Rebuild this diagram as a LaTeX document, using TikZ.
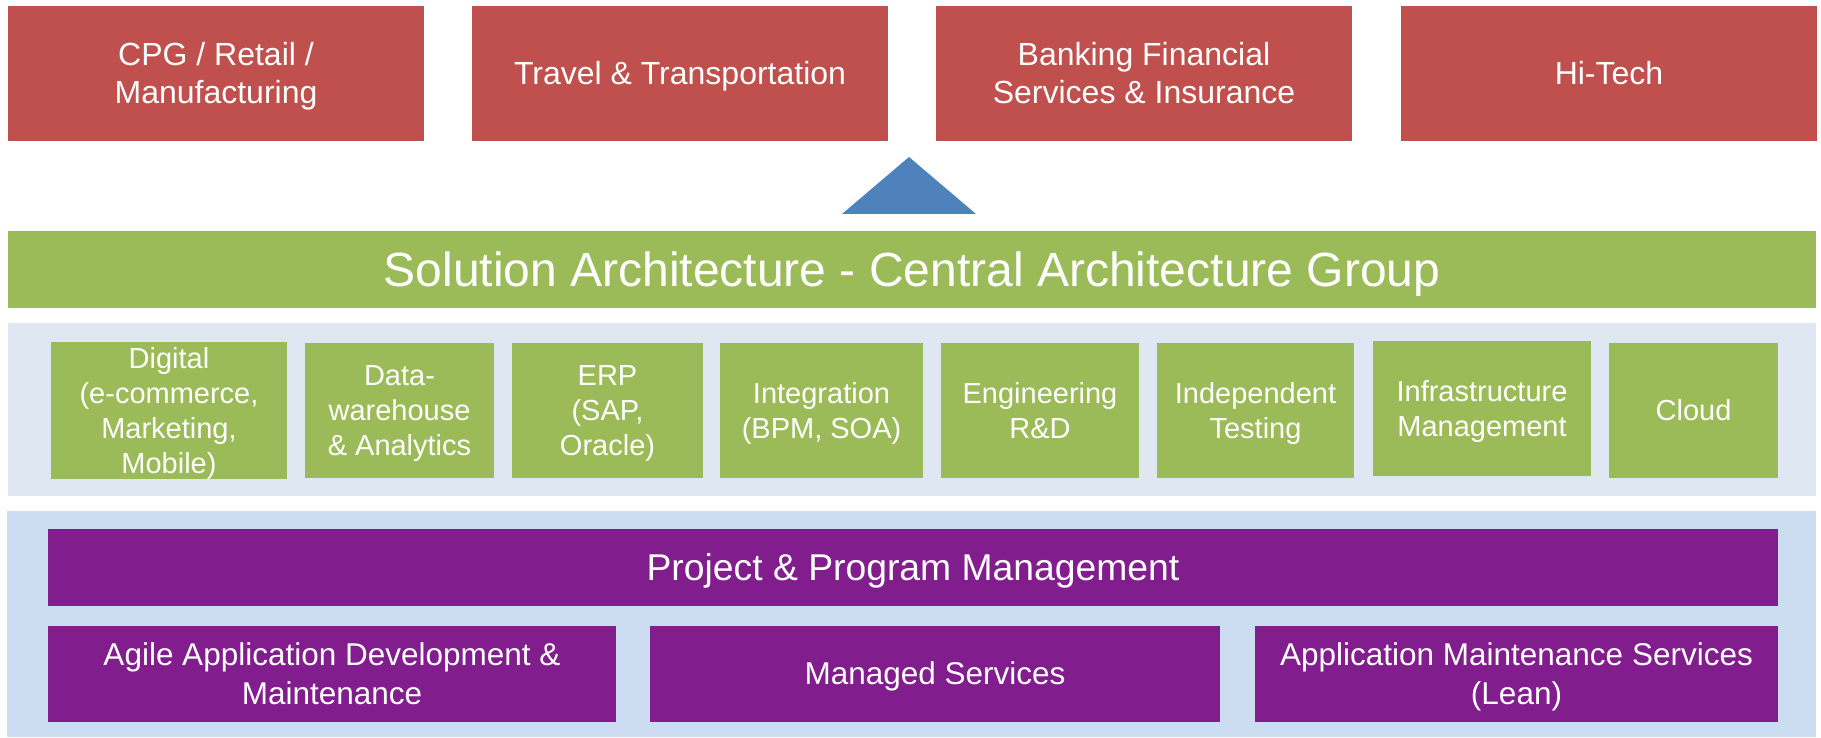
\documentclass[tikz,border=0pt]{standalone}
\usepackage{fontspec}
\setmainfont{Liberation Sans}
\definecolor{redbox}{HTML}{C0504D}
\definecolor{greenbox}{HTML}{9BBB59}
\definecolor{panelA}{HTML}{DFE7F2}
\definecolor{panelB}{HTML}{CCDDF1}
\definecolor{purplebox}{HTML}{821D8E}
\definecolor{triblue}{HTML}{4F81BD}
% line strut matching the ascent/descent of the font's line box
\newcommand{\ps}{\rule[-0.212em]{0pt}{1.117em}}
\tikzset{
  base/.style={rectangle, inner sep=0pt, outer sep=0pt, align=center, text=white},
  sector/.style={base, fill=redbox, minimum width=416pt, minimum height=135pt, font=\fontsize{32}{38}\selectfont},
  arch/.style={base, fill=greenbox, font=\fontsize{48}{57}\selectfont},
  practice/.style={base, fill=greenbox, minimum height=135pt, font=\fontsize{29}{35}\selectfont},
  panel/.style={rectangle, inner sep=0pt, outer sep=0pt, draw=none},
  pm/.style={base, fill=purplebox, font=\fontsize{37.3}{45}\selectfont},
  service/.style={base, fill=purplebox, minimum height=96pt, font=\fontsize{31.5}{39.5}\selectfont},
}
\begin{document}
\begin{tikzpicture}[x=1pt, y=-1pt]
\useasboundingbox (0,0) rectangle (1821,738);
% top sectors
\node[sector] (cpg) at (216,73.5) {\ps CPG / Retail /\\\ps Manufacturing};
\node[sector] (travel) at (680,73.5) {\ps Travel \& Transportation};
\node[sector] (bfsi) at (1144,73.5) {\ps Banking Financial\\\ps Services \& Insurance};
\node[sector] (hitech) at (1609,73.5) {\ps Hi-Tech};
% triangle
\coordinate (apex) at (909,157);
\coordinate (bl) at (842,214);
\coordinate (br) at (976,214);
\fill[triblue] (apex) -- (br) -- (bl) -- cycle;
% solution architecture
\node[arch, minimum width=1808pt, minimum height=77pt] (sa) at (912,269.5) {\ps Solution Architecture - Central Architecture Group};
% practices panel
\node[panel, fill=panelA, minimum width=1808pt, minimum height=173pt] (panelA) at (912,409.5) {};
\node[practice, minimum width=236pt] (digital) at (169,410.5) {\ps Digital\\\ps (e-commerce,\\\ps Marketing,\\\ps Mobile)};
\node[practice, minimum width=189pt] (dw) at (399.5,410.5) {\ps Data-\\\ps warehouse\\\ps \& Analytics};
\node[practice, minimum width=191pt] (erp) at (607.5,410.5) {\ps ERP\\\ps (SAP,\\\ps Oracle)};
\node[practice, minimum width=203pt] (integ) at (821.5,410.5) {\ps Integration\\\ps (BPM, SOA)};
\node[practice, minimum width=198pt] (eng) at (1040,410.5) {\ps Engineering\\\ps R\&D};
\node[practice, minimum width=197pt] (test) at (1255.5,410.5) {\ps Independent\\\ps Testing};
\node[practice, minimum width=218pt] (infra) at (1482,408.5) {\ps Infrastructure\\\ps Management};
\node[practice, minimum width=169pt] (cloud) at (1693.5,410.5) {\ps Cloud};
% delivery panel
\node[panel, fill=panelB, minimum width=1809pt, minimum height=226pt] (panelB) at (911.5,624) {};
\node[pm, minimum width=1730pt, minimum height=77pt] (ppm) at (913,567.5) {\ps Project \& Program Management};
\node[service, minimum width=568pt] (agile) at (332,674) {\ps Agile Application Development \&\\\ps Maintenance};
\node[service, minimum width=570pt] (managed) at (935,674) {\ps Managed Services};
\node[service, minimum width=523pt] (ams) at (1516.5,674) {\ps Application Maintenance Services\\\ps (Lean)};
\end{tikzpicture}
\end{document}
